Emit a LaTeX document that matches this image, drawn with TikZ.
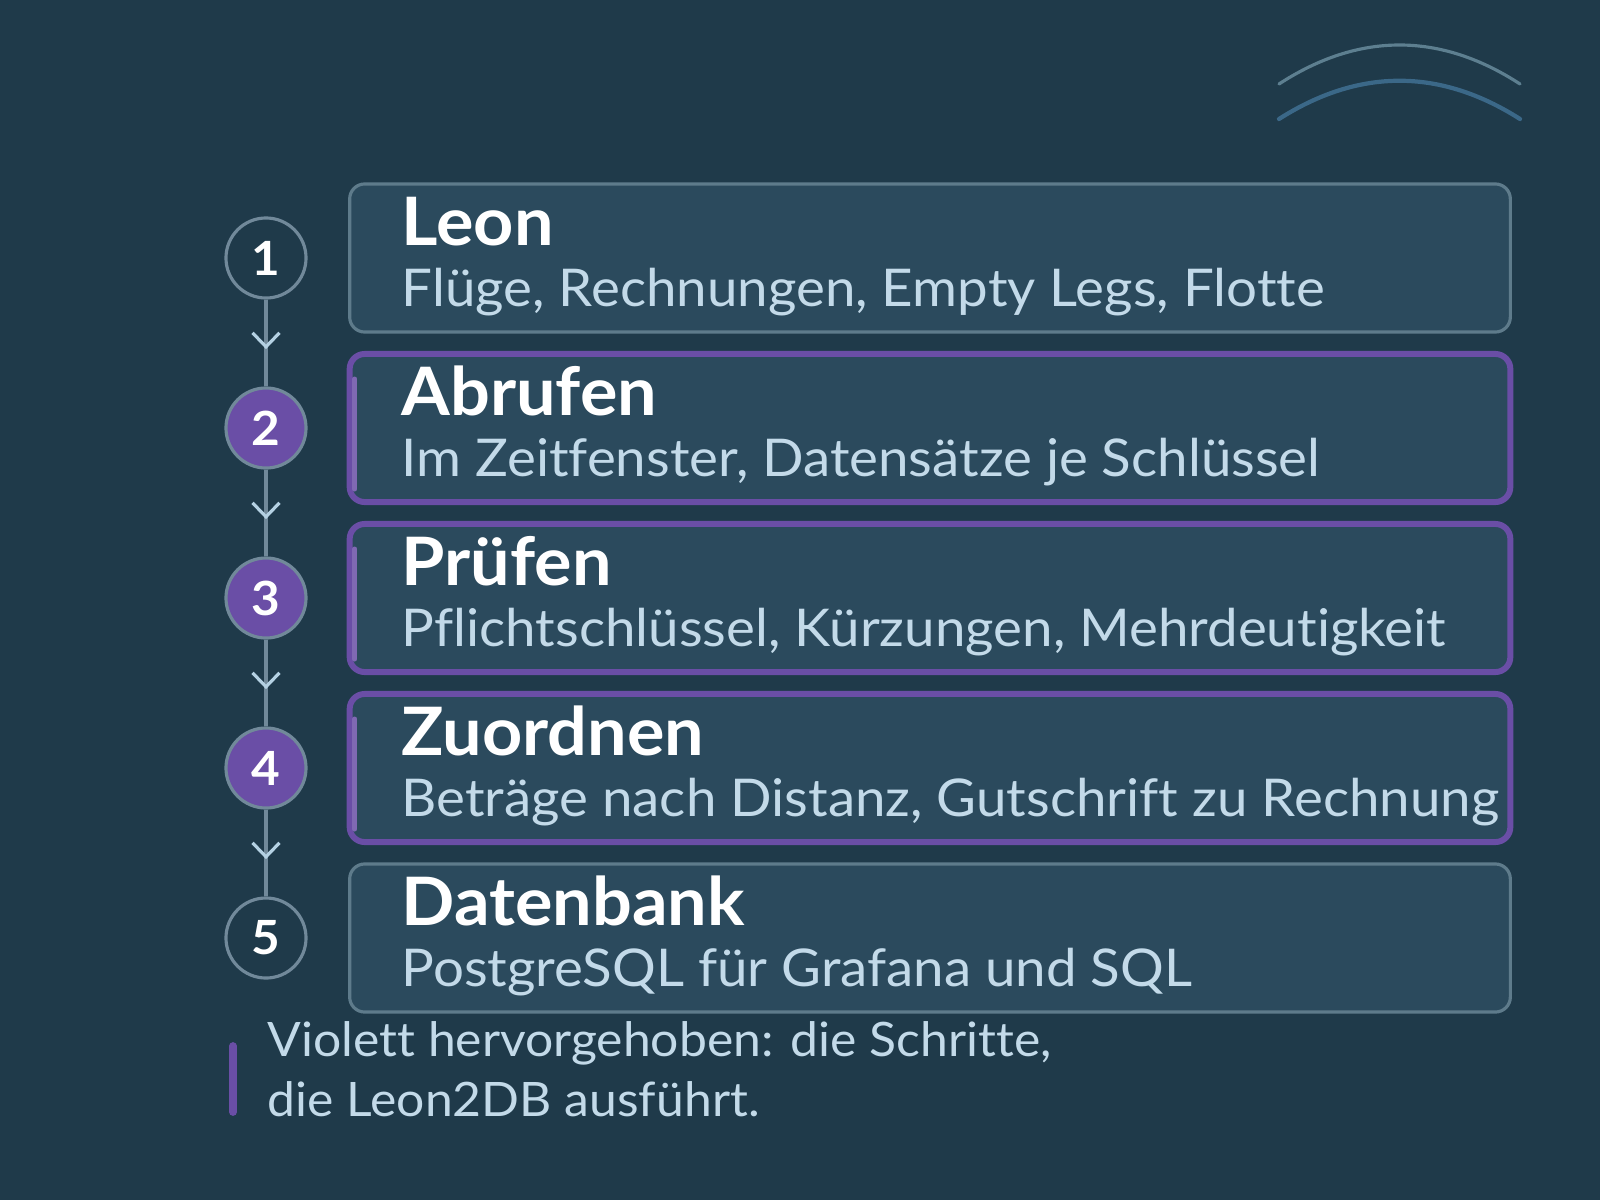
\documentclass[tikz,border=0pt]{standalone}
\usepackage{fontspec}
\setmainfont{Lato}[Ligatures=NoCommon, FakeStretch=1.05]
\usetikzlibrary{arrows.meta,decorations.markings}

\definecolor{bgdark}{HTML}{1F3A4A}
\definecolor{boxfill}{HTML}{2B4A5D}
\definecolor{boxline}{HTML}{5E7B8B}
\definecolor{violett}{HTML}{6A4EA6}
\definecolor{ringline}{HTML}{71899A}
\definecolor{subtext}{HTML}{C3DAE9}
\definecolor{chevron}{HTML}{B4D1E3}
\definecolor{arcgray}{HTML}{5D7F90}
\definecolor{arcblue}{HTML}{3B6888}

\tikzset{
  stepbox/.style={draw=boxline, line width=0.9pt, fill=boxfill, rounded corners=0.15cm,
    minimum width=11.6cm, minimum height=1.48cm},
  doneby/.style={stepbox, draw=violett, line width=1.7pt},
  ring/.style={circle, draw=ringline, line width=0.9pt, fill=bgdark, minimum size=0.8cm,
    inner sep=0pt, text=white, font=\bfseries\fontsize{13.4}{14}\selectfont},
  ringdone/.style={ring, fill=violett},
  steptitle/.style={anchor=base west, inner sep=0pt, text=white, font=\bfseries\fontsize{19}{20}\selectfont},
  stepsub/.style={anchor=base west, inner sep=0pt, text=subtext, font=\fontsize{14.8}{16}\selectfont},
  legendtext/.style={anchor=base west, inner sep=0pt, text=subtext, font=\fontsize{13.5}{16}\selectfont},
  flow/.style={draw=ringline, line width=0.9pt,
    postaction={decorate, decoration={markings, mark=at position 0.57 with
      {\arrow[chevron, line width=0.9pt]{Straight Barb[length=1.4mm,width=2.7mm]}}}}}
}

\begin{document}
\begin{tikzpicture}[x=0.01cm, y=-0.01cm]
  \fill[bgdark] (0,0) rectangle (1600,1200);
  \useasboundingbox (0,0) rectangle (1600,1200);

  % Bögen oben rechts
  \draw[arcgray, line width=0.9pt, line cap=round] (1279,84) .. controls (1359,32) and (1440,32) .. (1520,84);
  \draw[arcblue, line width=1.2pt, line cap=round] (1279,119) .. controls (1359,68) and (1440,68) .. (1520,119);

  % Schritte
  \foreach \i/\kind/\title/\sub in {
      1/stepbox/Leon/{Flüge, Rechnungen, Empty Legs, Flotte},
      2/doneby/Abrufen/{Im Zeitfenster, Datensätze je Schlüssel},
      3/doneby/Prüfen/{Pflichtschlüssel, Kürzungen, Mehrdeutigkeit},
      4/doneby/Zuordnen/{Beträge nach Distanz, Gutschrift zu Rechnung},
      5/stepbox/Datenbank/{PostgreSQL für Grafana und SQL}}{
    \pgfmathsetmacro{\ypos}{258+170*(\i-1)}
    \node[\kind] (box\i) at (930,\ypos) {};
    \node[steptitle] (title\i) at (401,\ypos-13) {\title};
    \node[stepsub] (sub\i) at (401,\ypos+48) {\sub};
  }

  % violette Akzente links in den Kästen
  \foreach \i in {2,3,4}{
    \draw[violett!85!white, line width=1.4pt, line cap=round]
      ([shift={(8,28)}]box\i.north west) -- ([shift={(8,-16)}]box\i.south west);
  }

  % Nummern
  \node[ring] (c1) at (266,258) {1};
  \node[ringdone] (c2) at (266,428) {2};
  \node[ringdone] (c3) at (266,598) {3};
  \node[ringdone] (c4) at (266,768) {4};
  \node[ring] (c5) at (266,938) {5};

  \draw[flow] (c1) -- (c2);
  \draw[flow] (c2) -- (c3);
  \draw[flow] (c3) -- (c4);
  \draw[flow] (c4) -- (c5);

  % Legende
  \coordinate (legtop) at (233,1046);
  \coordinate (legbot) at (233,1112);
  \draw[violett, line width=2.2pt, line cap=round] (legtop) -- (legbot);
  \node[legendtext] (legend1) at (267,1056) {Violett hervorgehoben: die Schritte,};
  \node[legendtext] (legend2) at (267,1116) {die Leon2DB ausführt.};
\end{tikzpicture}
\end{document}
